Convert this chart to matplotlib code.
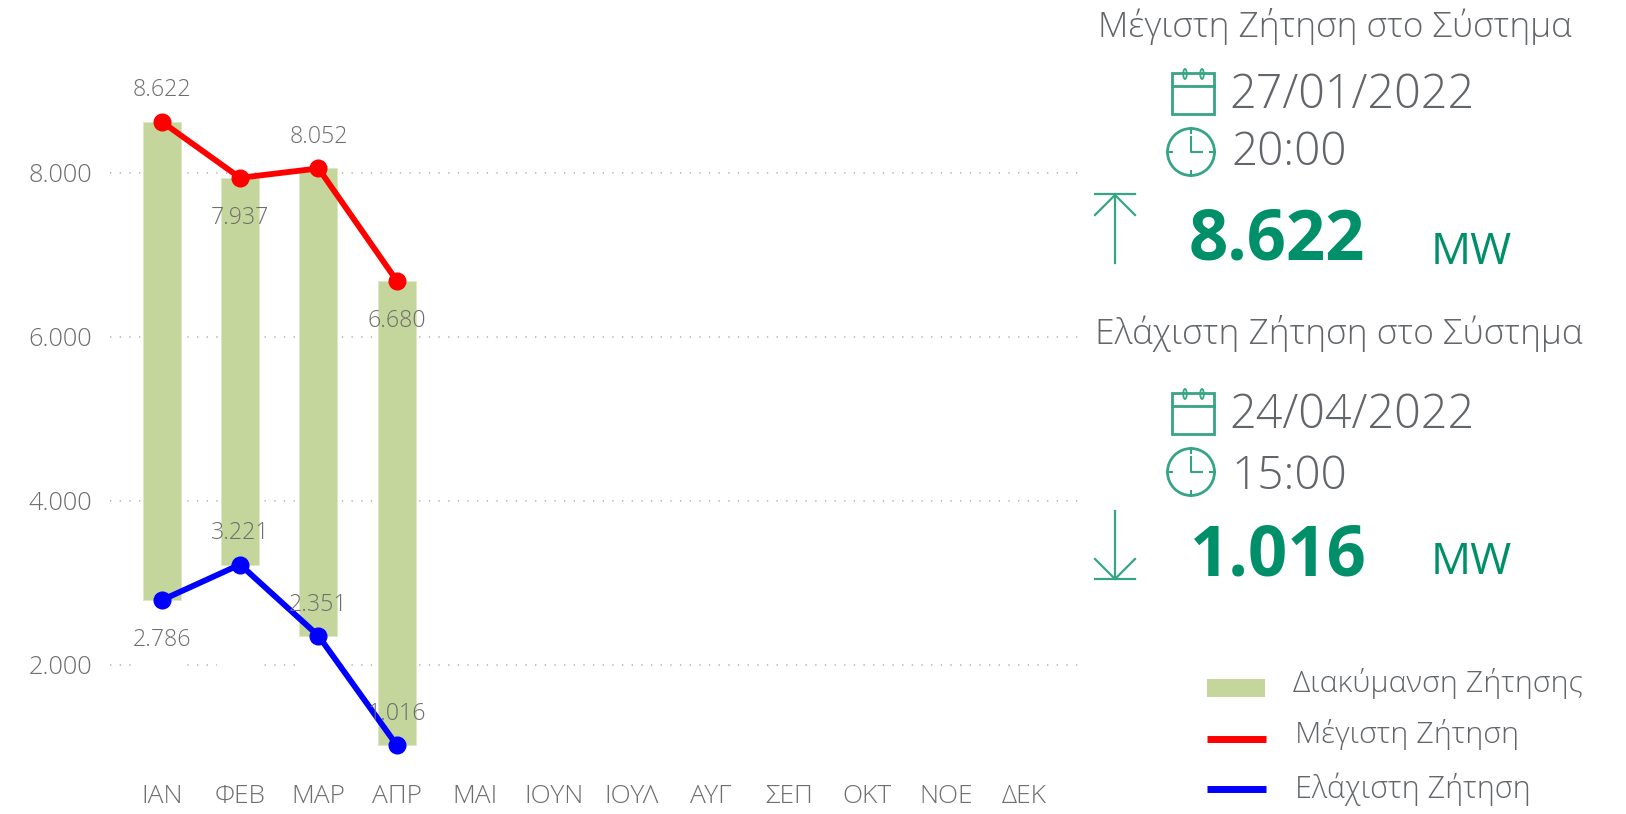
import matplotlib
matplotlib.use("Agg")
import matplotlib.pyplot as plt
from matplotlib.patches import Rectangle, Circle, Ellipse

plt.rcParams['font.family'] = ['Open Sans', 'DejaVu Sans']

# data
months = ['ΙΑΝ', 'ΦΕΒ', 'ΜΑΡ', 'ΑΠΡ', 'ΜΑΙ', 'ΙΟΥΝ', 'ΙΟΥΛ', 'ΑΥΓ', 'ΣΕΠ', 'ΟΚΤ', 'ΝΟΕ', 'ΔΕΚ']
max_demand = [8622, 7937, 8052, 6680]
min_demand = [2786, 3221, 2351, 1016]
y_ticks = [2000, 4000, 6000, 8000]
y_labels = ['2.000', '4.000', '6.000', '8.000']
legend_labels = ['Διακύμανση Ζήτησης', 'Μέγιστη Ζήτηση', 'Ελάχιστη Ζήτηση']

GREEN_BAR = '#C4D69B'
GREEN = '#009069'
ICON = '#35A585'
GRAY = '#6E6E6E'
DARK = '#62666A'

W, H = 1626, 814
fig = plt.figure(figsize=(W / 100, H / 100), dpi=100)

# plot area in pixels
left, right, top, bottom = 110, 1080, 40, 770
ax = fig.add_axes([left / W, 1 - bottom / H, (right - left) / W, (bottom - top) / H])
ax.set_xlim(-0.659, 11.713)
ax.set_ylim(715, 9618)

x = list(range(len(max_demand)))
span = [a - b for a, b in zip(max_demand, min_demand)]

# stacked: white base hides the grid under the floating bar
ax.bar(range(12), min_demand + [0] * 8, width=0.6, color='white', zorder=2)
ax.bar(x, span, bottom=min_demand, width=0.485, color=GREEN_BAR, edgecolor='#DCE8C6', linewidth=0.7, zorder=3)
ax.plot(x, max_demand, color='#FF0000', lw=4.2, marker='o', ms=12, zorder=4)
ax.plot(x, min_demand, color='#0000FF', lw=4.2, marker='o', ms=12, zorder=4)

# labels above (+) or below (-) the marker
max_side = [1, -1, 1, -1]
min_side = [-1, 1, 1, 1]
for xs, vals, sides in [(x, max_demand, max_side), (x, min_demand, min_side)]:
    for i, v, s in zip(xs, vals, sides):
        off = 22.5 if s > 0 else -29
        ax.annotate(f'{v / 1000:.3f}', (i, v), xytext=(0, off), textcoords='offset points',
                    ha='center', va='center', fontsize=16.7, color=GRAY, weight='light', zorder=5)

ax.set_xticks(range(12))
ax.set_xticklabels(months, fontsize=19, color=GRAY, weight='light')
ax.set_yticks(y_ticks)
ax.set_yticklabels(y_labels, fontsize=18.3, color=GRAY, weight='light')
ax.tick_params(length=0)
ax.tick_params(axis='y', pad=13)
ax.tick_params(axis='x', pad=10)
ax.grid(axis='y', color='#BDBDBD', lw=1.3, linestyle=(0, (0.75, 4.6)))
ax.set_axisbelow(True)
for s in ax.spines.values():
    s.set_visible(False)
ax.patch.set_alpha(0)

# right panel, pixel coordinates
ov = fig.add_axes([0, 0, 1, 1])
ov.set_xlim(0, W)
ov.set_ylim(H, 0)
ov.axis('off')
ov.patch.set_alpha(0)


def calendar(y0):
    ov.add_patch(Rectangle((1172, y0), 42, 41, fill=False, ec=ICON, lw=2))
    ov.plot([1172, 1214], [y0 + 13, y0 + 13], color=ICON, lw=2)
    for cx in [1185, 1202]:
        ov.add_patch(Ellipse((cx, y0 + 1), 3.5, 10, fill=False, ec=ICON, lw=1.3))


def clock(cy):
    cx = 1191
    ov.add_patch(Circle((cx, cy), 23.5, fill=False, ec=ICON, lw=2))
    ov.plot([cx, cx, cx + 11], [cy - 15, cy, cy], color=ICON, lw=1.5)
    for dx, dy in [(0, -1), (0, 1), (1, 0), (-1, 0)]:
        ov.plot([cx + dx * 19, cx + dx * 24], [cy + dy * 19, cy + dy * 24], color=ICON, lw=1.5)


calendar(73)
clock(152)
calendar(393)
clock(472)

# arrows
ov.plot([1115, 1115], [194, 263], color=ICON, lw=1.6)
ov.plot([1095, 1135], [194, 194], color=ICON, lw=1.6)
ov.plot([1095, 1115, 1135], [215, 195, 215], color=ICON, lw=1.6)
ov.plot([1115, 1115], [511, 579], color=ICON, lw=1.6)
ov.plot([1095, 1135], [579, 579], color=ICON, lw=1.6)
ov.plot([1095, 1115, 1135], [559, 579, 559], color=ICON, lw=1.6)


def txt(px, py, s, size, color=DARK, weight='light'):
    ov.text(px, py, s, fontsize=size, color=color, weight=weight, ha='left', va='baseline')


txt(1098, 37, 'Μέγιστη Ζήτηση στο Σύστημα', 25.4)
txt(1095, 344, 'Ελάχιστη Ζήτηση στο Σύστημα', 25.5)
txt(1229, 108, '27/01/2022', 33.6)
txt(1231, 165, '20:00', 33)
txt(1229, 428, '24/04/2022', 33.6)
txt(1231, 489, '15:00', 33)
txt(1189, 259, '8.622', 49.6, GREEN, 'bold')
txt(1190, 576, '1.016', 49.6, GREEN, 'bold')
txt(1431, 264, 'MW', 32, GREEN, 'normal')
txt(1431, 574, 'MW', 32, GREEN, 'normal')

# legend
ov.add_patch(Rectangle((1207, 679), 58, 18, color=GREEN_BAR, lw=0))
ov.plot([1207, 1266], [739, 739], color='#FF0000', lw=5, solid_capstyle='butt')
ov.plot([1207, 1266], [789, 789], color='#0000FF', lw=5, solid_capstyle='butt')
txt(1293, 692, legend_labels[0], 21.9)
txt(1295, 743, legend_labels[1], 21.9)
txt(1295, 798, legend_labels[2], 22)

fig.savefig('out.png', dpi=100)
